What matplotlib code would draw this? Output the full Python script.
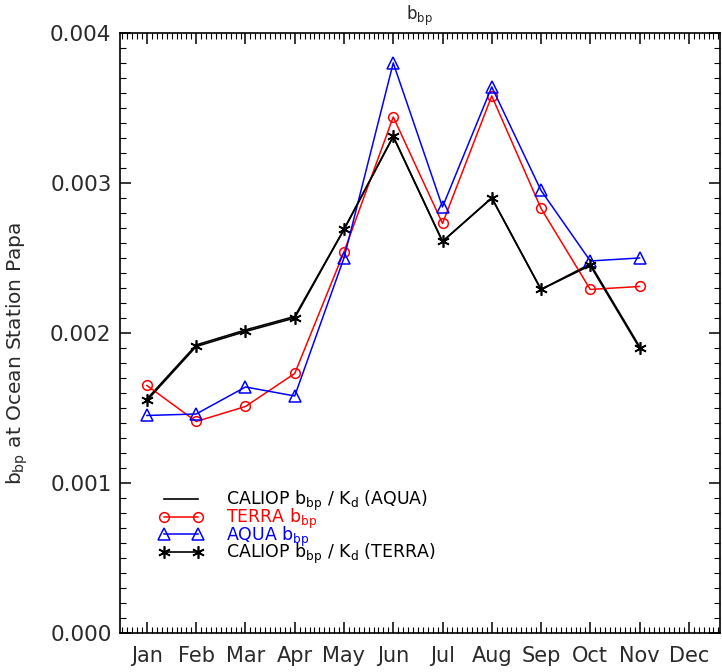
import numpy as np
import matplotlib.pyplot as plt
from matplotlib.ticker import MultipleLocator

months = ['Jan', 'Feb', 'Mar', 'Apr', 'May', 'Jun', 'Jul', 'Aug', 'Sep', 'Oct', 'Nov', 'Dec']
month_idx = np.arange(1, 12)  # Jan..Nov have data

# bbp at Ocean Station Papa
terra_bbp = [0.00165, 0.00141, 0.00151, 0.00173, 0.00254, 0.00344, 0.00273, 0.00358, 0.00283, 0.00229, 0.00231]
aqua_bbp = [0.00145, 0.00146, 0.00164, 0.00158, 0.00250, 0.00380, 0.00284, 0.00364, 0.00295, 0.00248, 0.00250]
caliop_terra = [0.00155, 0.00191, 0.00201, 0.00210, 0.00269, 0.00331, 0.00261, 0.00290, 0.00229, 0.00245, 0.00190]
caliop_aqua = [0.00156, 0.00192, 0.00202, 0.00211, 0.00269, 0.00331, 0.00261, 0.00290, 0.00229, 0.00246, 0.00191]

plt.rcParams['font.family'] = 'DejaVu Sans'
plt.rcParams['mathtext.fontset'] = 'dejavusans'
txt_col = '#2a2a2a'

fig = plt.figure(figsize=(7.22, 6.72), dpi=100)
ax = fig.add_axes([0.166, 0.058, 0.831, 0.893])

ax.plot(month_idx, caliop_aqua, color='black', lw=1.2,
        label=r'CALIOP b$_{\rm bp}$ / K$_{\rm d}$ (AQUA)')
ax.plot(month_idx, terra_bbp, color='#ff0000', lw=1.1, marker='o', ms=7,
        mfc='none', mec='#ff0000', mew=1.1, label=r'TERRA b$_{\rm bp}$')
ax.plot(month_idx, aqua_bbp, color='#0000ff', lw=1.1, marker='^', ms=9,
        mfc='none', mec='#0000ff', mew=1.1, label=r'AQUA b$_{\rm bp}$')
ax.plot(month_idx, caliop_terra, color='black', lw=1.2, marker=(6, 2, 0), ms=9,
        mew=1.2, label=r'CALIOP b$_{\rm bp}$ / K$_{\rm d}$ (TERRA)')

ax.set_xlim(0.45, 12.63)
ax.set_ylim(0, 0.004)
ax.set_xticks(np.arange(1, 13))
ax.set_xticklabels(months, fontsize=15, color=txt_col)
ax.xaxis.set_minor_locator(MultipleLocator(0.1))
ax.set_yticks([0, 0.001, 0.002, 0.003, 0.004])
ax.set_yticklabels(['0.000', '0.001', '0.002', '0.003', '0.004'], fontsize=15.5, color=txt_col)
ax.yaxis.set_minor_locator(MultipleLocator(0.0001))
ax.tick_params(which='both', direction='in', top=True, right=True)
ax.tick_params(which='major', length=8, width=1.1)
ax.tick_params(which='minor', length=4, width=0.8)
ax.tick_params(axis='x', which='major', pad=9)
ax.tick_params(axis='y', which='major', pad=6)
for sp in ax.spines.values():
    sp.set_linewidth(1.2)

ax.set_title(r'b$_{\rm bp}$', fontsize=12, pad=9, color=txt_col)
ax.set_ylabel(r'b$_{\rm bp}$ at Ocean Station Papa', fontsize=14.5, color=txt_col)
ax.yaxis.set_label_coords(-0.15, 0.465)

# tight legend rows, text coloured like its line
leg = ax.legend(loc='lower left', bbox_to_anchor=(0.05, 0.097), frameon=False,
                fontsize=12.5, numpoints=2, handlelength=2.6, handletextpad=1.3,
                labelspacing=-0.38, borderpad=0)
for txt, line in zip(leg.get_texts(), leg.get_lines()):
    txt.set_color(line.get_color())

fig.savefig('out.png', dpi=100)
